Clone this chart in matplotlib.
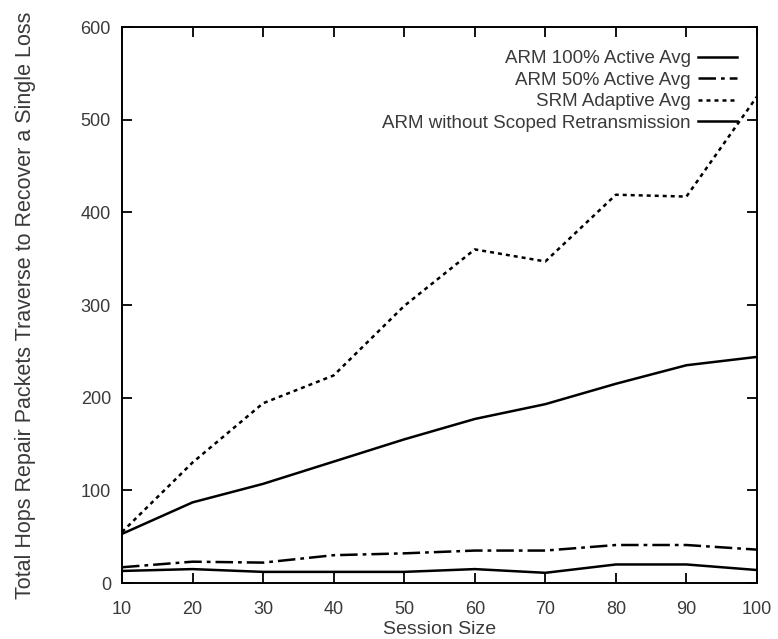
import matplotlib
matplotlib.use("Agg")
import matplotlib.pyplot as plt

plt.rcParams['font.family'] = ['Liberation Sans', 'DejaVu Sans']

session_size = [10, 20, 30, 40, 50, 60, 70, 80, 90, 100]
arm_100 = [13, 15, 12, 12, 12, 15, 11, 20, 20, 14]
arm_50 = [17, 23, 22, 30, 32, 35, 35, 41, 41, 36]
srm_adaptive = [55, 130, 194, 224, 299, 360, 347, 419, 417, 525]
arm_no_scope = [53, 87, 107, 131, 155, 177, 193, 215, 235, 244]

xticks = [10, 20, 30, 40, 50, 60, 70, 80, 90, 100]
yticks = [0, 100, 200, 300, 400, 500, 600]

txt = '#3a3a3a'

fig = plt.figure(figsize=(7.78, 6.39), dpi=100)
ax = fig.add_axes([122 / 778, 1 - 583 / 639, 635 / 778, 556 / 639])

lw = 1.8
ax.plot(session_size, arm_100, color='black', lw=lw, label='ARM 100% Active Avg')
ax.plot(session_size, arm_50, color='black', lw=lw, dashes=(7, 2, 1.5, 2), label='ARM 50% Active Avg')
ax.plot(session_size, srm_adaptive, color='black', lw=lw, dashes=(1.6, 1.6), label='SRM Adaptive Avg')
ax.plot(session_size, arm_no_scope, color='black', lw=lw, label='ARM without Scoped Retransmission')

ax.set_xlim(10, 100)
ax.set_ylim(0, 600)
ax.set_xticks(xticks)
ax.set_yticks(yticks)
ax.tick_params(direction='in', top=True, right=True, length=7, width=1.3,
               labelsize=13, labelcolor=txt)
ax.tick_params(axis='y', pad=8)
ax.tick_params(axis='x', pad=13)
for s in ax.spines.values():
    s.set_linewidth(1.4)

ax.set_xlabel('Session Size', fontsize=14, color=txt, labelpad=2)
ax.set_ylabel('Total Hops Repair Packets Traverse to Recover a Single Loss',
              fontsize=15.5, color=txt)
ax.yaxis.set_label_coords(-0.135, 0.5)

leg = ax.legend(loc='upper right', frameon=False, markerfirst=False, fontsize=13.5,
                handlelength=2.1, handletextpad=0.35, labelspacing=0.23,
                borderaxespad=0.0, borderpad=0.0, bbox_to_anchor=(0.9685, 0.958))
for t in leg.get_texts():
    t.set_color(txt)

fig.savefig('out.png', dpi=100)
